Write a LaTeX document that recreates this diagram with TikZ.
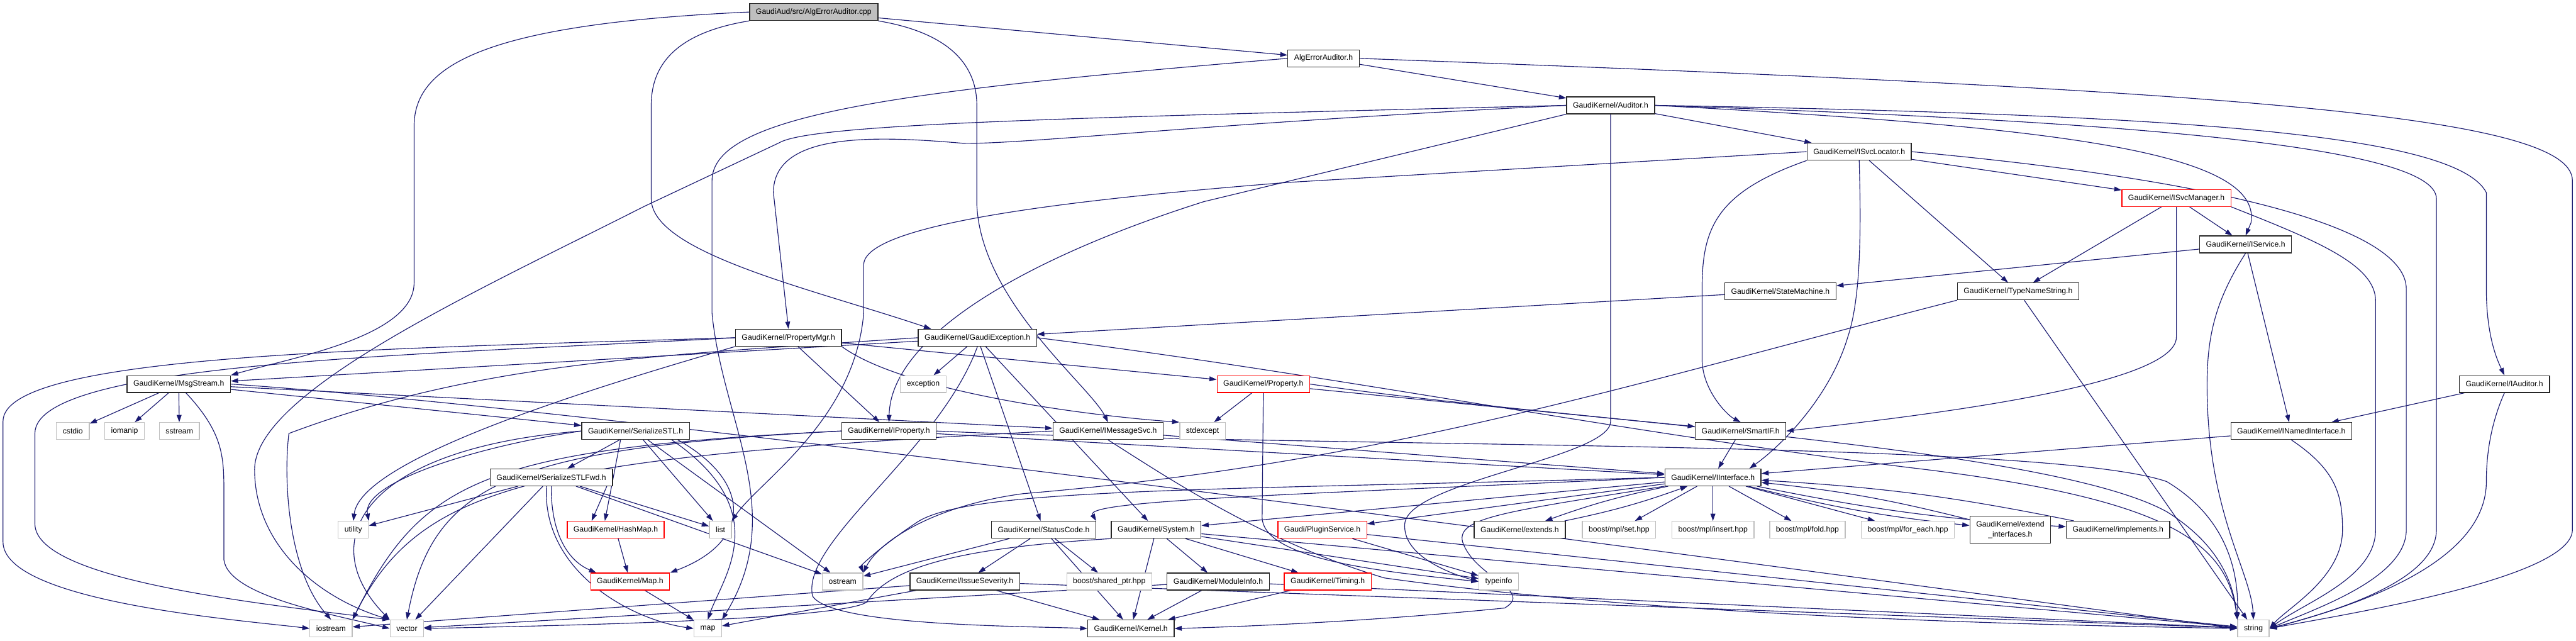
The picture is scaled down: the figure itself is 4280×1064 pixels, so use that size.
\documentclass[tikz,border=0pt]{standalone}
\usepackage{fontspec}
\setmainfont{Liberation Sans}
\usetikzlibrary{arrows.meta, backgrounds}
\definecolor{edgeblue}{HTML}{191970}
\definecolor{extgray}{HTML}{BFBFBF}
\newcommand\dxfont{\fontsize{12.8}{14}\selectfont}
\tikzset{
  hdr/.style={draw=black!85, fill=white, line width=1.4pt, minimum height=28pt,
    inner xsep=10.5pt, inner ysep=1pt, font=\dxfont},
  cuthdr/.style={hdr, draw=red},
  syshdr/.style={hdr, draw=extgray},
  roothdr/.style={hdr, fill=extgray},
  dep/.style={edgeblue, line width=1.2pt, -{Triangle[length=12pt,width=8pt]}},
}

\begin{document}
\begin{tikzpicture}[x=1pt, y=-1pt]
  \useasboundingbox (0,0) rectangle (4280,1064);

  % top of the tree
  \node[roothdr] (cpp) at (1352,20) {GaudiAud/src/AlgErrorAuditor.cpp};
  \node[hdr] (algh) at (2199,97) {AlgErrorAuditor.h};
  \node[hdr] (auditor) at (2676,175) {GaudiKernel/Auditor.h};
  \node[hdr] (svcloc) at (3089,252) {GaudiKernel/ISvcLocator.h};
  \node[cuthdr] (svcmgr) at (3616,329) {GaudiKernel/ISvcManager.h};
  \node[hdr] (service) at (3731,406) {GaudiKernel/IService.h};
  \node[hdr] (statem) at (2958,484) {GaudiKernel/StateMachine.h};
  \node[hdr] (typename) at (3353,484) {GaudiKernel/TypeNameString.h};
  \node[hdr] (propmgr) at (1310,561) {GaudiKernel/PropertyMgr.h};
  \node[hdr] (gexc) at (1624,561) {GaudiKernel/GaudiException.h};
  \node[hdr] (msgstream) at (297,638) {GaudiKernel/MsgStream.h};
  \node[syshdr] (exception) at (1534,638) {exception};
  \node[cuthdr] (property) at (2099,638) {GaudiKernel/Property.h};
  \node[hdr] (iauditor) at (4161,638) {GaudiKernel/IAuditor.h};

  % middle rows
  \node[syshdr] (cstdio) at (121,716) {cstdio};
  \node[syshdr] (iomanip) at (207,716) {iomanip};
  \node[syshdr] (sstream) at (298,716) {sstream};
  \node[hdr] (sstl) at (1056,716) {GaudiKernel/SerializeSTL.h};
  \node[hdr] (iprop) at (1477,716) {GaudiKernel/IProperty.h};
  \node[hdr] (imsg) at (1841,716) {GaudiKernel/IMessageSvc.h};
  \node[syshdr] (stdexcept) at (1998,716) {stdexcept};
  \node[hdr] (smartif) at (2892,716) {GaudiKernel/SmartIF.h};
  \node[hdr] (inamed) at (3807,716) {GaudiKernel/INamedInterface.h};
  \node[hdr] (sstlfwd) at (916,793) {GaudiKernel/SerializeSTLFwd.h};
  \node[hdr] (iinterface) at (2846,793) {GaudiKernel/IInterface.h};
  \node[syshdr] (utility) at (587,880) {utility};
  \node[cuthdr] (hashmap) at (1023,880) {GaudiKernel/HashMap.h};
  \node[syshdr] (list) at (1197,880) {list};
  \node[hdr] (statuscode) at (1734,880) {GaudiKernel/StatusCode.h};
  \node[hdr] (system) at (1921,880) {GaudiKernel/System.h};
  \node[cuthdr] (plugin) at (2197,880) {Gaudi/PluginService.h};
  \node[hdr] (extends) at (2525,880) {GaudiKernel/extends.h};
  \node[syshdr] (mplset) at (2690,880) {boost/mpl/set.hpp};
  \node[syshdr] (mplinsert) at (2846,880) {boost/mpl/insert.hpp};
  \node[syshdr] (mplfold) at (3003,880) {boost/mpl/fold.hpp};
  \node[syshdr] (mplforeach) at (3170,880) {boost/mpl/for\_each.hpp};
  \node[hdr, minimum height=45pt, align=center, font=\fontsize{12.8}{17}\selectfont]
    (extendif) at (3340,880) {GaudiKernel/extend\\\_interfaces.h};
  \node[hdr] (implements) at (3519,880) {GaudiKernel/implements.h};

  % bottom rows
  \node[cuthdr] (mapnode) at (1047,966) {GaudiKernel/Map.h};
  \node[syshdr] (ostream) at (1400,966) {ostream};
  \node[hdr] (severity) at (1603,966) {GaudiKernel/IssueSeverity.h};
  \node[syshdr] (sharedptr) at (1843,966) {boost/shared\_ptr.hpp};
  \node[hdr] (moduleinfo) at (2024,966) {GaudiKernel/ModuleInfo.h};
  \node[cuthdr] (timing) at (2206,966) {GaudiKernel/Timing.h};
  \node[syshdr] (typeinfo) at (2490,966) {typeinfo};
  \node[syshdr] (iostream) at (550,1044) {iostream};
  \node[syshdr] (vector) at (676,1044) {vector};
  \node[syshdr] (map) at (1176,1044) {map};
  \node[hdr] (kernel) at (1879,1044) {GaudiKernel/Kernel.h};
  \node[syshdr] (string) at (3744,1044) {string};

  \begin{scope}[on background layer]
    \fill[white] (0,0) rectangle (4280,1064);
    % plain includes
    \foreach \src/\dst in {cpp/algh, algh/auditor, auditor/svcloc, svcloc/svcmgr,
        svcloc/typename, svcmgr/typename, svcmgr/service,
        service/statem, service/inamed, statem/gexc, iauditor/inamed,
        inamed/iinterface, smartif/iinterface, typename/string,
        propmgr/iprop, propmgr/property,
        gexc/msgstream, gexc/exception, gexc/statuscode, gexc/system,
        property/stdexcept, property/smartif,
        msgstream/cstdio, msgstream/iomanip, msgstream/sstream, msgstream/sstl,
        msgstream/imsg,
        sstl/sstlfwd, sstl/list, sstl/ostream,
        sstlfwd/utility, sstlfwd/vector, sstlfwd/list, sstlfwd/ostream,
        hashmap/mapnode, mapnode/map,
        iprop/iinterface, imsg/iinterface,
        iinterface/mplset, iinterface/mplinsert, iinterface/mplfold,
        iinterface/mplforeach, iinterface/plugin, iinterface/system,
        statuscode/ostream, statuscode/severity, statuscode/sharedptr,
        statuscode/kernel, system/moduleinfo, system/timing, system/kernel,
        system/typeinfo, system/string, severity/kernel, severity/map,
        severity/string, severity/iostream, moduleinfo/kernel, moduleinfo/string,
        moduleinfo/vector, timing/kernel, plugin/typeinfo, plugin/string}
      \draw[dep] (\src) -- (\dst);

    % includes both ways
    \foreach \other in {extends, extendif, implements}{
      \draw[dep] (iinterface) to[bend right=4] (\other);
      \draw[dep] (\other) to[bend right=4] (iinterface);
    }

    % long detours
    \draw[dep] (cpp.west) .. controls (800,40) and (688,110) .. (688,210)
      -- (688,470) .. controls (688,560) and (480,595) .. (msgstream.north east);
    \draw[dep] (cpp.south west) .. controls (1120,55) and (1082,110) .. (1082,175)
      -- (1082,330) .. controls (1082,420) and (1350,480) .. ([xshift=22pt]gexc.north west);
    \draw[dep] (cpp.south east) .. controls (1580,55) and (1623,110) .. (1623,175)
      -- (1623,340) .. controls (1630,500) and (1810,640) .. (imsg.north);
    \draw[dep] (algh.west) .. controls (1500,150) and (1183,190) .. (1183,300)
      -- (1183,520) .. controls (1200,700) and (1310,850) .. (map.north east);
    \draw[dep] (algh.east) .. controls (3700,150) and (4274,190) .. (4274,300)
      -- (4274,880) .. controls (4274,960) and (3900,1020) .. (string.east);
    \draw[dep] (auditor.west) .. controls (1800,195) and (1350,205) .. (1295,237)
      -- (1070,343) .. controls (800,480) and (423,650) .. (423,780)
      .. controls (423,900) and (520,990) .. (vector.north west);
    \draw[dep] (auditor.west) .. controls (2000,205) and (1700,240) .. (1600,238)
      .. controls (1450,225) and (1285,220) .. (1285,320) -- (propmgr.north);
    \draw[dep] (auditor.south west) -- (2000,335)
      .. controls (1700,430) and (1480,560) .. (iprop.north);
    \draw[dep] (auditor.south) -- (2676,700) .. controls (2676,760) and (2340,800) .. (2334,870)
      .. controls (2330,920) and (2400,950) .. (typeinfo.west);
    \draw[dep] (auditor.east) .. controls (3600,190) and (4080,220) .. (4131,320)
      -- (4131,480) .. controls (4131,560) and (4150,600) .. (iauditor.north);
    \draw[dep] (auditor.east) .. controls (3500,200) and (4048,240) .. (4048,330)
      -- (4048,880) .. controls (4048,960) and (3900,1010) .. (string.east);
    \draw[dep] (auditor.east) .. controls (3400,210) and (3760,250) .. (3740,370) -- (service.north);
    \draw[dep] (svcloc.west) -- (2140,303) .. controls (1800,330) and (1435,370) .. (1435,440)
      -- (1435,520) .. controls (1420,700) and (1260,800) .. (list.north east);
    \draw[dep] (svcloc.east) .. controls (3700,300) and (3998,380) .. (3998,480)
      -- (3998,880) .. controls (3998,960) and (3850,1010) .. (string.east);
    \draw[dep] (svcloc.south west) .. controls (2850,320) and (2828,380) .. (2828,480)
      -- (2828,600) .. controls (2830,650) and (2870,690) .. (smartif.north);
    \draw[dep] (svcloc.south) .. controls (3093,400) and (3090,500) .. (3070,560)
      .. controls (3040,660) and (2960,740) .. ([xshift=-20pt]iinterface.north east);
    \draw[dep] (svcmgr.south east) .. controls (3850,400) and (3947,440) .. (3947,500)
      -- (3947,880) .. controls (3947,960) and (3830,1000) .. (string.east);
    \draw[dep] (svcmgr.south) -- (3616,560) .. controls (3616,640) and (3200,690) .. (smartif.east);
    \draw[dep] (service.south) .. controls (3680,500) and (3667,560) .. (3667,640)
      .. controls (3667,850) and (3740,950) .. (string.north);
    \draw[dep] (iauditor.south) .. controls (4140,700) and (4131,750) .. (4131,800)
      .. controls (4131,940) and (3900,1010) .. (string.east);
    \draw[dep] (inamed.south) .. controls (3880,780) and (3892,820) .. (3892,880)
      .. controls (3892,960) and (3800,1010) .. (string.east);
    \draw[dep] (typename.south west) .. controls (2700,640) and (2300,770) .. (1700,820)
      .. controls (1550,840) and (1460,900) .. (ostream.north east);
    \draw[dep] (propmgr.west) .. controls (600,580) and (5,590) .. (5,700)
      -- (5,900) .. controls (5,1000) and (400,1030) .. (iostream.west);
    \draw[dep] (propmgr.west) .. controls (700,590) and (58,600) .. (58,720)
      -- (58,870) .. controls (58,960) and (400,1000) .. (vector.north west);
    \draw[dep] (propmgr.south west) .. controls (1000,640) and (600,760) .. (utility.north);
    \draw[dep] (propmgr.south east) .. controls (1500,650) and (1800,690) .. (stdexcept.north west);
    \draw[dep] (gexc.west) .. controls (1100,590) and (800,600) .. (480,720)
      .. controls (470,800) and (480,950) .. (iostream.north);
    \draw[dep] (gexc.south) .. controls (1560,750) and (1330,900) .. (1350,990)
      .. controls (1380,1040) and (1700,1040) .. (kernel.west);
    \draw[dep] (gexc.east) .. controls (2200,620) and (2700,720) .. (3200,780)
      .. controls (3600,830) and (3700,900) .. (string.north west);
    \draw[dep] (property.east) .. controls (2600,700) and (3400,740) .. (3600,850)
      .. controls (3680,900) and (3710,960) .. (string.north west);
    \draw[dep] (property.south) -- (2097,860) .. controls (2100,930) and (2300,950) .. (typeinfo.west);
    \draw[dep] ([xshift=12pt]msgstream.south) .. controls (372,720) and (372,760) .. (372,820)
      -- (372,930) .. controls (380,990) and (550,1020) .. (vector.west);
    \draw[dep] (msgstream.east) .. controls (1000,680) and (2500,880) .. (string.west);
    \draw[dep] (sstl.west) .. controls (800,740) and (600,800) .. (utility.north east);
    \draw[dep] (sstl.west) .. controls (600,745) and (520,900) .. (vector.north west);
    \draw[dep] ([xshift=-25pt]sstl.south) -- ([xshift=-18pt]hashmap.north);
    \draw[dep] ([xshift=-10pt]sstlfwd.south east) -- ([xshift=-40pt]hashmap.north);
    \draw[dep] ([xshift=-20pt]sstl.south east) .. controls (1250,800) and (1250,900) .. (mapnode.north east);
    \draw[dep] ([xshift=-30pt]sstl.south east) .. controls (1290,850) and (1200,960) .. (map.north);
    \draw[dep] (sstlfwd.south) .. controls (915,880) and (940,930) .. ([xshift=10pt]mapnode.north west);
    \draw[dep] ([xshift=-8pt]sstlfwd.south) .. controls (900,950) and (1050,1030) .. (map.west);
    \draw[dep] (iprop.west) .. controls (800,745) and (700,800) .. (iostream.north east);
    \draw[dep] (iprop.west) .. controls (850,745) and (720,800) .. (vector.north);
    \draw[dep] (iprop.east) .. controls (2200,745) and (3400,730) .. (3600,800)
      .. controls (3700,860) and (3720,950) .. (string.north west);
    \draw[dep] (imsg.west) .. controls (900,760) and (700,800) .. (iostream.north east);
    \draw[dep] (imsg.south) .. controls (1950,800) and (2100,900) .. (2300,960)
      .. controls (2800,1030) and (3500,1040) .. (string.west);
    \draw[dep] (iinterface.west) .. controls (2000,815) and (1600,810) .. (1520,870)
      .. controls (1460,910) and (1430,940) .. (ostream.north east);
    \draw[dep] (iinterface.west) .. controls (2200,820) and (1800,830) .. (statuscode.north east);
    \draw[dep] (iinterface.south west) .. controls (2500,850) and (2420,860) .. (2430,900)
      .. controls (2450,960) and (2550,980) .. (2500,1010)
      .. controls (2300,1030) and (2100,1040) .. (kernel.east);
    \draw[dep] (system.south west) .. controls (1600,910) and (1480,940) .. (1440,1000)
      .. controls (1400,1030) and (900,1040) .. (vector.east);
  \end{scope}
\end{tikzpicture}
\end{document}
